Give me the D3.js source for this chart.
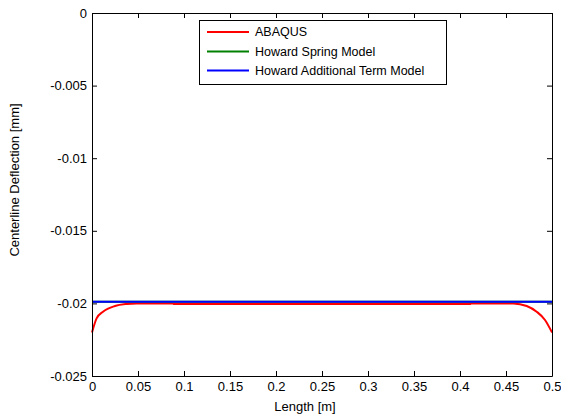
<!DOCTYPE html>
<head>
  <meta charset="utf-8">
  <script src="https://cdn.jsdelivr.net/npm/d3@7"></script>
  <style>
    body { margin:0; background:#fff; }
    text { font-family: "Liberation Sans", Arial, sans-serif; font-size: 12.5px; fill:#000; }
  </style>
</head>
<body>
  <svg width="561" height="420"></svg>
  <script>
    // data
    var seriesNames = ["ABAQUS", "Howard Spring Model", "Howard Additional Term Model"];
    var seriesColors = ["#ff0000", "#008000", "#0000ff"];
    var abaqusX = [0, 0.005, 0.012, 0.025, 0.0377, 0.0486, 0.088, 0.089, 0.411, 0.412, 0.458, 0.4725, 0.4833, 0.4924, 0.5];
    var abaqusY = [-0.0220, -0.02103, -0.02057, -0.02018, -0.02004, -0.0200, -0.0200, -0.02004, -0.02004, -0.0200, -0.02000, -0.02018, -0.02057, -0.02114, -0.0220];
    var springX = [0, 0.5];
    var springY = [-0.01988, -0.01988];
    var additionalX = [0, 0.5];
    var additionalY = [-0.01988, -0.01988];
    var xTicks = [0, 0.05, 0.1, 0.15, 0.2, 0.25, 0.3, 0.35, 0.4, 0.45, 0.5];
    var yTicks = [0, -0.005, -0.01, -0.015, -0.02, -0.025];

    var svg = d3.select("svg");
    // plot box (note: "top" is reserved on window, so use m*)
    var mLeft = 92, mRight = 552, mTop = 13, mBottom = 376;

    var x = d3.scaleLinear().domain([0, 0.5]).range([mLeft, mRight]);
    var y = d3.scaleLinear().domain([-0.025, 0]).range([mBottom, mTop]);

    var series = [
      { name: seriesNames[0], color: seriesColors[0], xs: abaqusX, ys: abaqusY },
      { name: seriesNames[1], color: seriesColors[1], xs: springX, ys: springY },
      { name: seriesNames[2], color: seriesColors[2], xs: additionalX, ys: additionalY }
    ];

    var line = d3.line()
      .x(function (d) { return x(d[0]); })
      .y(function (d) { return y(d[1]); })
      .curve(d3.curveMonotoneX);

    svg.selectAll("path.series")
      .data(series)
      .enter()
      .append("path")
        .attr("class", "series")
        .attr("fill", "none")
        .attr("stroke", function (d) { return d.color; })
        .attr("stroke-width", 2)
        .attr("d", function (d) { return line(d.xs.map(function (v, i) { return [v, d.ys[i]]; })); });

    // axes, ticks pointing inwards, box
    var fmt = function (d) { return d === 0 ? "0" : String(+d.toFixed(3)); };
    svg.append("g").attr("transform", "translate(0," + mBottom + ")")
      .call(d3.axisBottom(x).tickValues(xTicks).tickSizeInner(-5).tickSizeOuter(0).tickPadding(6).tickFormat(fmt));
    svg.append("g").attr("transform", "translate(0," + mTop + ")")
      .call(d3.axisTop(x).tickValues(xTicks).tickSizeInner(-5).tickSizeOuter(0).tickFormat(""));
    svg.append("g").attr("transform", "translate(" + mLeft + ",0)")
      .call(d3.axisLeft(y).tickValues(yTicks).tickSizeInner(-5).tickSizeOuter(0).tickPadding(5).tickFormat(fmt));
    svg.append("g").attr("transform", "translate(" + mRight + ",0)")
      .call(d3.axisRight(y).tickValues(yTicks).tickSizeInner(-5).tickSizeOuter(0).tickFormat(""));
    svg.selectAll(".domain").attr("stroke", "#000");
    svg.selectAll(".tick line").attr("stroke", "#000");
    svg.selectAll(".tick text").style("font-size", "13px").style("font-family", "Liberation Sans, Arial, sans-serif");

    svg.append("text").attr("x", 305).attr("y", 411).style("font-size", "13px")
      .attr("text-anchor", "middle").text("Length [m]");
    svg.append("text").attr("transform", "translate(14,180) rotate(-90)").style("font-size", "13px")
      .attr("text-anchor", "middle").attr("dy", "0.35em").text("Centerline Deflection [mm]");

    // legend
    var legend = svg.append("g");
    legend.append("rect").attr("x", 199.5).attr("y", 20.5).attr("width", 247).attr("height", 64)
      .attr("fill", "#fff").attr("stroke", "#000");
    var rows = legend.selectAll("g.row").data(series).enter().append("g")
      .attr("transform", function (d, i) { return "translate(0," + [32, 51.5, 70.5][i] + ")"; });
    rows.append("line").attr("x1", 207).attr("x2", 249)
      .attr("stroke", function (d) { return d.color; }).attr("stroke-width", 2);
    rows.append("text").attr("x", 255).attr("dy", "0.35em").text(function (d) { return d.name; });
  </script>
</body>
